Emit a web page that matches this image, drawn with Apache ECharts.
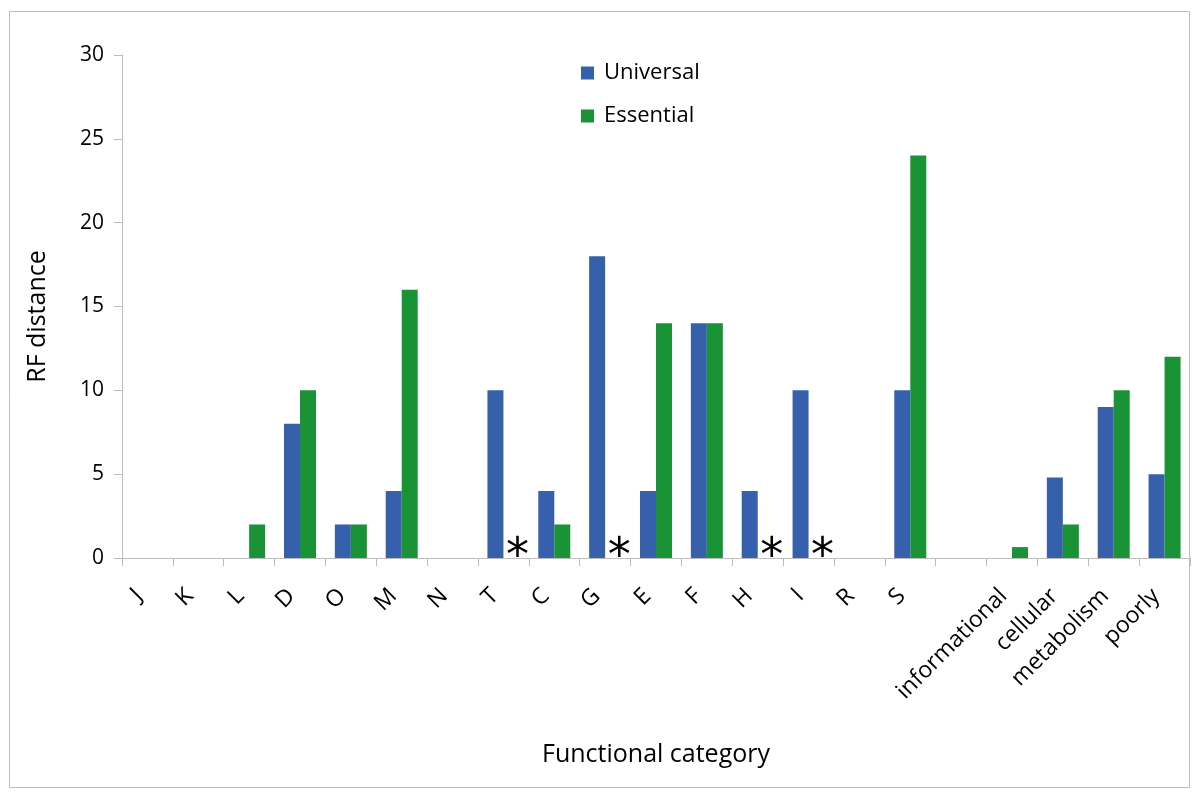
<!DOCTYPE html>
<html>
<head>
<meta charset="utf-8">
<script src="https://cdn.jsdelivr.net/npm/echarts@6/dist/echarts.min.js"></script>
<style>
html,body{margin:0;padding:0;background:#fff;}
#chart{width:1200px;height:799px;}
</style>
</head>
<body>
<div id="chart"></div>
<script>
const categories = ['J','K','L','D','O','M','N','T','C','G','E','F','H','I','R','S','','informational','cellular','metabolism','poorly'];
const universal = [0,0,0,8,2,4,0,10,4,18,4,14,4,10,0,10,0,0,4.8,9,5];
const essential = [0,0,2,10,2,16,0,0,2,0,14,14,0,0,0,24,0,0.65,2,10,12];
const asteriskCats = ['T','G','H','I'];
const yTicks = {min:0, max:30, interval:5};

const FONT = '"Open Sans", "Noto Sans", sans-serif';
const BLUE = '#3660ab';
const GREEN = '#1a9336';

const essentialData = essential.map((v, i) => {
  if (asteriskCats.includes(categories[i])) {
    return {
      value: v,
      label: {
        show: true, position: 'insideBottom', formatter: '*',
        fontSize: 46, color: '#000', fontFamily: 'DejaVu Sans',
        offset: [6, 28]
      }
    };
  }
  return v;
});

const chart = echarts.init(document.getElementById('chart'), null, {renderer:'canvas'});
chart.setOption({
  backgroundColor: '#fff',
  animation: false,
  graphic: [{
    type: 'rect', shape: {x: 9.5, y: 11.5, width: 1180, height: 776},
    style: {fill: 'none', stroke: '#bdbdbd', lineWidth: 1}, silent: true, z: -1
  }],
  grid: {left: 122, right: 10, top: 55, bottom: 241},
  legend: {
    orient: 'vertical', left: 576, top: 57, itemWidth: 13, itemHeight: 13, itemGap: 21,
    icon: 'rect',
    textStyle: {fontSize: 22, fontFamily: FONT, color: '#000', padding: [0, 0, 0, 5]},
    data: ['Universal', 'Essential']
  },
  xAxis: {
    type: 'category', data: categories,
    name: 'Functional category', nameLocation: 'middle', nameGap: 184,
    nameTextStyle: {fontSize: 25, fontFamily: FONT, color: '#000', padding: [0, 0, 0, 0]},
    axisLine: {lineStyle: {color: '#bdbdbd', width: 1}},
    axisTick: {show: true, length: 8, lineStyle: {color: '#bdbdbd'}, alignWithLabel: false},
    axisLabel: {rotate: 45, fontSize: 23, fontFamily: FONT, color: '#000', margin: 26, padding: [0, 12, 0, 0], interval: 0}
  },
  yAxis: {
    type: 'value', min: yTicks.min, max: yTicks.max, interval: yTicks.interval,
    name: 'RF distance', nameLocation: 'middle', nameGap: 72, nameRotate: 90,
    nameTextStyle: {fontSize: 25, fontFamily: FONT, color: '#000', padding: [0, 20, 0, 0]},
    axisLine: {show: true, lineStyle: {color: '#bdbdbd', width: 1}},
    axisTick: {show: true, length: 8, lineStyle: {color: '#bdbdbd'}},
    axisLabel: {fontSize: 21, fontFamily: FONT, color: '#000', margin: 18},
    splitLine: {show: false}
  },
  series: [
    {name: 'Universal', type: 'bar', data: universal, barWidth: 16, barGap: '0%',
     itemStyle: {color: BLUE}},
    {name: 'Essential', type: 'bar', data: essentialData, barWidth: 16, barGap: '0%',
     itemStyle: {color: GREEN}}
  ]
});
</script>
</body>
</html>
